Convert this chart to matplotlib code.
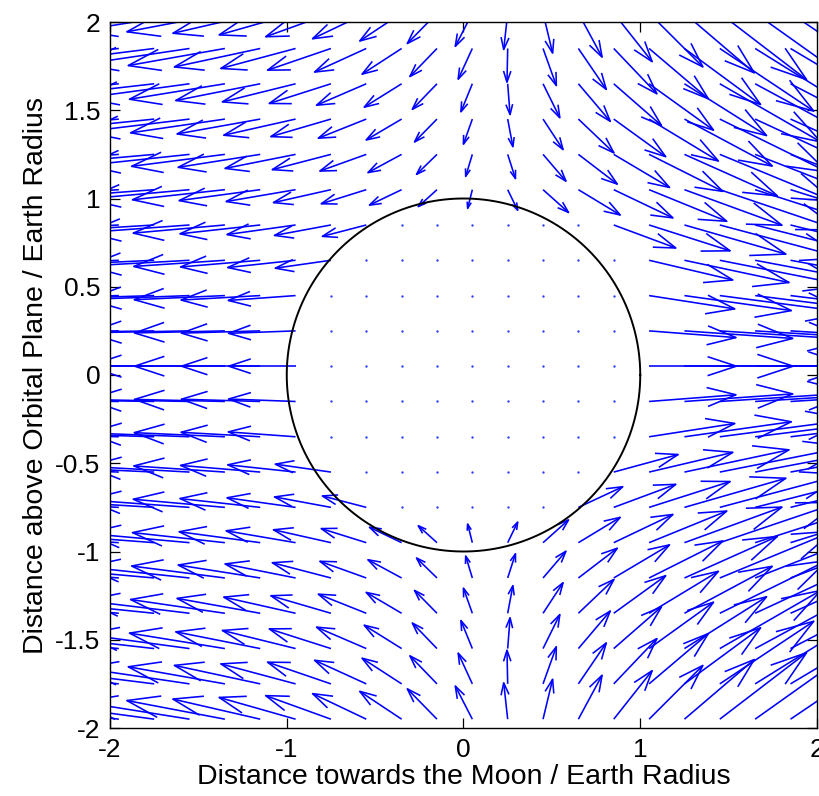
import numpy as np
import matplotlib.pyplot as plt
from matplotlib.collections import LineCollection

plt.rcParams['font.family'] = ['Liberation Sans', 'DejaVu Sans']

# grid points where the arrows sit on the picture (Earth radii)
grid_x = [-1.95, -1.75, -1.55, -1.35, -1.15, -0.95, -0.75, -0.55, -0.35, -0.15,
          0.05, 0.25, 0.45, 0.65, 0.85, 1.05, 1.25, 1.45, 1.65, 1.85, 2.05]
grid_y = [-1.95, -1.75, -1.55, -1.35, -1.15, -0.95, -0.75, -0.55, -0.35, -0.15,
          0.05, 0.25, 0.45, 0.65, 0.85, 1.05, 1.25, 1.45, 1.65, 1.85, 2.05]
grid_shift = 0.05     # arrow grid is drawn a bit off the circle centre

# field parameters
moon_dist = 6.0       # Earth radii
spin = 1.85           # extra outward term along the Moon direction
arrow_scale = 0.11
earth_r = 1.0

X, Y = np.meshgrid(grid_x, grid_y)
xt = X - grid_shift
yt = Y - grid_shift
dx = moon_dist - xt
dy = -yt
d3 = (dx**2 + dy**2)**1.5
fx = moon_dist**3 * dx / d3 - moon_dist + spin * xt
fy = moon_dist**3 * dy / d3
inside = xt**2 + yt**2 < earth_r**2
U = np.where(inside, 0, fx * arrow_scale)
V = np.where(inside, 0, fy * arrow_scale)

# matlab style arrows: shaft plus two barbs
alpha = 0.33
beta = 0.33
segs = []
for x, y, u, v in zip(X[~inside], Y[~inside], U[~inside], V[~inside]):
    tx, ty = x + u, y + v
    segs.append([(x, y), (tx, ty)])
    segs.append([(tx - alpha * (u + beta * v), ty - alpha * (v - beta * u)),
                 (tx, ty),
                 (tx - alpha * (u - beta * v), ty - alpha * (v + beta * u))])

fig = plt.figure(figsize=(8.2, 7.96), dpi=100)
ax = fig.add_axes([110 / 820, 68 / 796, 707 / 820, 706 / 796])

lc = LineCollection(segs, colors='#0000ff', linewidths=1.15)
ax.add_collection(lc)
ax.plot(X[inside], Y[inside], 'o', color='#2a3cff', ms=1.7, mew=0)

t = np.linspace(0, 2 * np.pi, 200)
ax.plot(earth_r * np.cos(t), earth_r * np.sin(t), color='black', lw=1.4)

ax.set_xlim(-2, 2)
ax.set_ylim(-2, 2)
ax.set_xticks([-2, -1, 0, 1, 2])
ax.set_yticks([-2, -1.5, -1, -0.5, 0, 0.5, 1, 1.5, 2])
ax.set_yticklabels(['-2', '-1.5', '-1', '-0.5', '0', '0.5', '1', '1.5', '2'])
ax.set_xticklabels(['-2', '-1', '0', '1', '2'])
ax.tick_params(direction='in', top=True, right=True, length=7, width=0.9,
               labelsize=19, pad=7)
for s in ax.spines.values():
    s.set_linewidth(1.0)
ax.set_xlabel('Distance towards the Moon / Earth Radius', fontsize=20.5, labelpad=2)
ax.set_ylabel('Distance above Orbital Plane / Earth Radius', fontsize=20.5, labelpad=4)

fig.savefig('out.png', dpi=100)
